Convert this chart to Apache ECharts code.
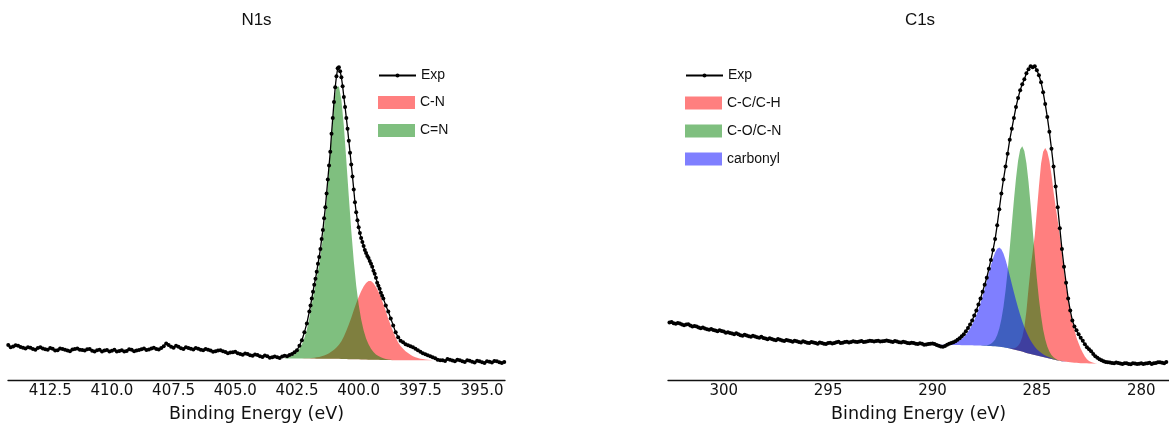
<!DOCTYPE html>
<html>
<head>
<meta charset="utf-8">
<title>XPS N1s / C1s</title>
<script src="https://cdn.jsdelivr.net/npm/echarts@6/dist/echarts.min.js"></script>
<style>
  html, body { margin: 0; padding: 0; background: #fff; }
  #chart { width: 1169px; height: 428px; }
</style>
</head>
<body>
<div id="chart"></div>
<script>
// ---------------- N1s spectrum ----------------
const n1sTitle = 'N1s';
const n1sRange = [394.07, 414.21];
const n1sTicks = [412.5, 410.0, 407.5, 405.0, 402.5, 400.0, 397.5, 395.0];

// measured spectrum: [binding energy (eV), counts]
const n1sExp = [
  [414.2,352],[414.1,330],[414.0,338],[413.9,350],[413.8,345],[413.7,332],[413.6,325],[413.5,318],[413.4,330],[413.3,326],
  [413.2,312],[413.1,305],[413.0,322],[412.9,330],[412.8,318],[412.7,310],[412.6,305],[412.5,322],[412.4,316],[412.3,298],
  [412.2,300],[412.1,318],[412.0,312],[411.9,304],[411.8,296],[411.7,290],[411.6,308],[411.5,312],[411.4,318],[411.3,306],
  [411.2,302],[411.1,296],[411.0,310],[410.9,312],[410.8,294],[410.7,286],[410.6,300],[410.5,306],[410.4,288],[410.3,296],
  [410.2,302],[410.1,288],[410.0,295],[409.9,304],[409.8,286],[409.7,292],[409.6,300],[409.5,288],[409.4,292],[409.3,310],
  [409.2,305],[409.1,290],[409.0,296],[408.9,302],[408.8,310],[408.7,318],[408.6,302],[408.5,308],[408.4,318],[408.3,326],
  [408.2,312],[408.1,308],[408.0,322],[407.9,340],[407.8,368],[407.7,352],[407.6,335],[407.5,326],[407.4,345],[407.3,335],
  [407.2,320],[407.1,312],[407.0,330],[406.9,322],[406.8,314],[406.7,308],[406.6,322],[406.5,316],[406.4,305],[406.3,300],
  [406.2,312],[406.1,306],[406.0,298],[405.9,284],[405.8,290],[405.7,296],[405.6,300],[405.5,290],[405.4,282],[405.3,270],
  [405.2,276],[405.1,280],[405.0,285],[404.9,270],[404.8,262],[404.7,255],[404.6,268],[404.5,262],[404.4,250],[404.3,244],
  [404.2,258],[404.1,252],[404.0,240],[403.9,232],[403.8,246],[403.7,240],[403.6,225],[403.5,230],[403.4,238],[403.3,228],
  [403.2,222],[403.1,236],[403.0,245],
  [402.9,240],[402.8,252],[402.7,262],[402.6,280],[402.5,300],[402.4,345],[402.3,400],[402.2,480],[402.1,570],
  [402.0,690],[401.95,750],[401.9,820],[401.85,890],[401.8,960],[401.75,1020],[401.7,1090],[401.65,1170],[401.6,1240],[401.55,1320],
  [401.5,1420],[401.45,1510],[401.4,1630],[401.35,1740],[401.3,1880],[401.25,2020],[401.2,2160],[401.15,2300],[401.1,2480],[401.05,2640],
  [401.0,2800],[400.95,2950],[400.9,3060],[400.85,3140],[400.8,3150],[400.75,3110],[400.7,3050],[400.65,2960],[400.6,2850],[400.55,2750],
  [400.5,2640],[400.45,2530],[400.4,2410],[400.35,2290],[400.3,2170],[400.25,2050],[400.2,1920],[400.15,1790],[400.1,1690],[400.05,1610],
  [400.0,1540],[399.95,1480],[399.9,1430],[399.85,1390],[399.8,1350],[399.75,1310],[399.7,1280],[399.65,1250],[399.6,1230],[399.55,1200],
  [399.5,1170],[399.45,1140],[399.4,1100],[399.35,1070],[399.3,1030],[399.25,980],[399.2,950],[399.15,920],[399.1,880],[399.05,850],
  [399.0,820],
  [398.9,750],[398.8,690],[398.7,620],[398.6,550],[398.5,480],[398.4,430],[398.3,395],[398.2,380],[398.1,360],[398.0,350],
  [397.9,340],[397.8,330],[397.7,315],[397.6,300],[397.5,285],[397.4,270],[397.3,260],[397.2,250],[397.1,240],
  [397.0,230],[396.9,218],[396.8,205],[396.7,200],[396.6,198],[396.5,192],[396.4,212],[396.3,204],[396.2,196],[396.1,188],
  [396.0,205],[395.9,198],[395.8,190],[395.7,182],[395.6,200],[395.5,194],[395.4,184],[395.3,176],[395.2,195],[395.1,190],
  [395.0,180],[394.9,172],[394.8,190],[394.7,184],[394.6,176],[394.5,192],[394.4,188],[394.3,178],[394.2,172],[394.1,182]
];

// fitted components on a common energy grid
const n1sFitEnergy = [
  403.0, 402.9, 402.8, 402.7, 402.6, 402.5, 402.4, 402.3, 402.2, 402.1,
  402.0, 401.9, 401.8, 401.7, 401.6, 401.5, 401.4, 401.3, 401.2, 401.1,
  401.0, 400.9, 400.8, 400.7, 400.6, 400.5, 400.4, 400.3, 400.2, 400.1,
  400.0, 399.9, 399.8, 399.7, 399.6, 399.5, 399.4, 399.3, 399.2, 399.1,
  399.0, 398.9, 398.8, 398.7, 398.6, 398.5, 398.4, 398.3, 398.2, 398.1,
  398.0, 397.9, 397.8, 397.7, 397.6, 397.5, 397.4, 397.3, 397.2, 397.1,
  397.0
];
const n1sBackground = [
  216, 216, 216, 216, 216, 216, 216, 216, 216, 216,
  216, 216, 216, 215, 215, 215, 215, 215, 214, 214,
  214, 213, 213, 212, 212, 211, 210, 210, 209, 208,
  208, 207, 206, 206, 205, 204, 204, 203, 203, 202,
  202, 201, 201, 201, 200, 200, 200, 200, 199, 199,
  199, 199, 199, 198, 198, 198, 198, 198, 198, 198,
  198
];
const n1sCN = [
  0, 0, 0, 0, 0, 0, 0, 0, 2, 2,
  4, 6, 9, 13, 17, 24, 32, 41, 56, 72,
  91, 115, 143, 179, 227, 286, 350, 417, 493, 564,
  628, 688, 735, 771, 793, 793, 771, 735, 688, 628,
  564, 493, 417, 350, 286, 227, 179, 143, 115, 91,
  72, 56, 41, 32, 24, 17, 13, 9, 6, 4,
  2
];
const n1sCeqN = [
  3, 8, 17, 28, 47, 72, 99, 144, 207, 293,
  410, 545, 680, 815, 955, 1120, 1325, 1601, 1904, 2236,
  2567, 2741, 2743, 2608, 2346, 2001, 1642, 1297, 994, 745,
  552, 406, 295, 213, 155, 110, 77, 55, 39, 28,
  17, 11, 6, 3, 0, 0, 0, 0, 0, 0,
  0, 0, 0, 0, 0, 0, 0, 0, 0, 0,
  0
];

// ---------------- C1s spectrum ----------------
const c1sTitle = 'C1s';
const c1sRange = [278.67, 302.67];
const c1sTicks = [300, 295, 290, 285, 280];

const c1sExp = [
  [302.6,580],[302.5,585],[302.4,572],[302.3,566],[302.2,574],[302.1,568],[302.0,560],[301.9,552],[301.8,558],[301.7,562],
  [301.6,548],[301.5,540],[301.4,545],[301.3,538],[301.2,530],[301.1,522],[301.0,528],[300.9,520],[300.8,512],[300.7,506],
  [300.6,514],[300.5,504],[300.4,498],[300.3,492],[300.2,500],[300.1,494],[300.0,488],[299.9,476],[299.8,482],[299.7,474],
  [299.6,468],[299.5,462],[299.4,470],[299.3,460],[299.2,452],[299.1,446],[299.0,455],[298.9,448],[298.8,440],[298.7,436],
  [298.6,446],[298.5,438],[298.4,430],[298.3,426],[298.2,435],[298.1,424],[298.0,418],[297.9,410],[297.8,420],[297.7,414],
  [297.6,405],[297.5,400],[297.4,412],[297.3,406],[297.2,398],[297.1,394],[297.0,404],[296.9,398],[296.8,392],[296.7,386],
  [296.6,396],[296.5,390],[296.4,384],[296.3,378],[296.2,390],[296.1,384],[296.0,376],[295.9,372],[295.8,384],[295.7,378],
  [295.6,372],[295.5,366],[295.4,378],[295.3,372],[295.2,366],[295.1,362],[295.0,372],[294.9,376],[294.8,368],[294.7,372],
  [294.6,380],[294.5,386],[294.4,372],[294.3,376],[294.2,384],[294.1,386],[294.0,378],[293.9,382],[293.8,390],[293.7,386],
  [293.6,382],[293.5,388],[293.4,392],[293.3,384],[293.2,386],[293.1,390],[293.0,395],[292.9,392],[292.8,388],[292.7,392],
  [292.6,396],[292.5,388],[292.4,390],[292.3,394],[292.2,398],[292.1,392],[292.0,388],[291.9,384],[291.8,392],[291.7,388],
  [291.6,380],[291.5,378],[291.4,386],[291.3,380],[291.2,372],[291.1,370],[291.0,376],[290.9,372],[290.8,366],[290.7,362],
  [290.6,370],[290.5,364],[290.4,356],[290.3,358],[290.2,362],[290.1,366],
  [290.0,368],[289.9,362],[289.8,352],[289.7,345],[289.6,338],[289.5,334],[289.4,342],[289.3,355],[289.2,366],[289.1,372],
  [289.0,380],[288.9,390],[288.8,405],[288.7,420],[288.6,440],[288.5,460],[288.4,490],[288.3,525],[288.2,560],[288.1,600],
  [288.0,650],[287.9,700],[287.8,760],[287.7,820],[287.6,890],[287.5,960],[287.4,1030],[287.3,1120],[287.2,1210],[287.1,1310],
  [287.0,1420],[286.9,1560],[286.8,1720],[286.7,1880],[286.6,2020],[286.5,2150],[286.4,2280],[286.3,2420],[286.2,2530],[286.1,2640],
  [286.0,2750],[285.9,2840],[285.8,2920],[285.7,2980],[285.6,3030],[285.5,3090],[285.4,3130],[285.3,3160],[285.2,3150],[285.1,3160],
  [285.0,3120],[284.9,3070],[284.8,3000],[284.7,2900],[284.6,2780],[284.5,2650],[284.4,2500],[284.3,2330],[284.2,2150],[284.1,1950],
  [284.0,1740],[283.9,1530],[283.8,1320],[283.7,1140],[283.6,980],[283.5,820],[283.4,700],[283.3,600],[283.2,540],[283.1,500],
  [283.0,460],[282.9,425],[282.8,395],[282.7,360],[282.6,330],[282.5,310],[282.4,290],[282.3,262],[282.2,240],[282.1,224],
  [282.0,210],[281.9,200],[281.8,190],[281.7,182],[281.6,180],[281.5,176],[281.4,172],[281.3,168],[281.2,176],[281.1,172],
  [281.0,166],[280.9,162],[280.8,170],[280.7,168],[280.6,162],[280.5,158],[280.4,168],[280.3,166],[280.2,160],[280.1,164],
  [280.0,170],[279.9,160],[279.8,165],[279.7,170],[279.6,175],[279.5,162],[279.4,168],[279.3,172],[279.2,180],[279.1,178],
  [279.0,174],[278.9,170],[278.8,182]
];

const c1sFitEnergy = [
  290.0, 289.9, 289.8, 289.7, 289.6, 289.5, 289.4, 289.3, 289.2, 289.1,
  289.0, 288.9, 288.8, 288.7, 288.6, 288.5, 288.4, 288.3, 288.2, 288.1,
  288.0, 287.9, 287.8, 287.7, 287.6, 287.5, 287.4, 287.3, 287.2, 287.1,
  287.0, 286.9, 286.8, 286.7, 286.6, 286.5, 286.4, 286.3, 286.2, 286.1,
  286.0, 285.9, 285.8, 285.7, 285.6, 285.5, 285.4, 285.3, 285.2, 285.1,
  285.0, 284.9, 284.8, 284.7, 284.6, 284.5, 284.4, 284.3, 284.2, 284.1,
  284.0, 283.9, 283.8, 283.7, 283.6, 283.5, 283.4, 283.3, 283.2, 283.1,
  283.0, 282.9, 282.8, 282.7, 282.6, 282.5, 282.4, 282.3, 282.2, 282.1,
  282.0
];
const c1sBackground = [
  356, 356, 355, 355, 355, 354, 354, 354, 353, 353,
  353, 352, 352, 352, 351, 351, 350, 350, 349, 349,
  348, 348, 347, 347, 346, 345, 344, 343, 342, 341,
  339, 337, 335, 332, 329, 326, 322, 318, 313, 308,
  303, 298, 292, 286, 279, 273, 268, 263, 258, 253,
  247, 242, 237, 231, 226, 221, 216, 211, 206, 201,
  196, 193, 190, 187, 184, 181, 179, 177, 175, 173,
  171, 170, 169, 168, 168, 167, 167, 166, 166, 165,
  165
];
const c1sCC = [
  0, 0, 0, 0, 0, 0, 0, 0, 0, 0,
  0, 0, 0, 0, 0, 0, 0, 0, 0, 0,
  0, 0, 0, 0, 0, 0, 0, 0, 0, 0,
  0, 0, 0, 0, 0, 0, 0, 2, 6, 13,
  25, 46, 84, 148, 253, 422, 654, 865, 1034, 1203,
  1456, 1709, 1941, 2068, 2110, 2078, 1994, 1857, 1688, 1545,
  1405, 1262, 1087, 907, 760, 622, 496, 401, 333, 253,
  200, 148, 106, 68, 42, 25, 15, 8, 4, 2,
  0
];
const c1sCO = [
  0, 0, 0, 0, 0, 0, 0, 0, 0, 0,
  0, 0, 0, 0, 0, 0, 0, 0, 0, 0,
  0, 0, 0, 0, 2, 4, 6, 12, 23, 41,
  70, 116, 184, 279, 410, 575, 776, 1008, 1256, 1503,
  1728, 1911, 2029, 2070, 2029, 1911, 1728, 1503, 1256, 1008,
  776, 575, 410, 279, 184, 116, 70, 41, 23, 12,
  6, 4, 2, 0, 0, 0, 0, 0, 0, 0,
  0, 0, 0, 0, 0, 0, 0, 0, 0, 0,
  0
];
const c1sCarbonyl = [
  0, 0, 1, 2, 3, 4, 6, 9, 12, 16,
  21, 28, 37, 49, 64, 83, 107, 135, 170, 210,
  255, 305, 365, 430, 500, 575, 655, 735, 815, 885,
  945, 985, 1000, 985, 945, 885, 815, 735, 655, 575,
  500, 430, 365, 305, 255, 210, 170, 135, 107, 83,
  64, 49, 37, 28, 21, 16, 12, 9, 6, 4,
  3, 2, 1, 1, 0, 0, 0, 0, 0, 0,
  0, 0, 0, 0, 0, 0, 0, 0, 0, 0,
  0
];

const axisName = 'Binding Energy (eV)';

// ---------------- styling ----------------
const TICK_FONT = 'DejaVu Sans';
const TEXT_FONT = 'Liberation Sans';
const INK = '#111';
const RED = 'rgba(255,0,0,0.5)';
const GREEN = 'rgba(0,128,0,0.5)';
const BLUE = 'rgba(0,0,255,0.5)';

function energyAxis(gridIndex, range, ticks, digits) {
  return {
    type: 'value', gridIndex, inverse: true, min: range[0], max: range[1],
    name: axisName, nameLocation: 'middle', nameGap: 25,
    nameTextStyle: { fontFamily: TICK_FONT, fontSize: 17.5, color: INK },
    axisLine: { onZero: false, lineStyle: { color: INK, width: 1.3 } },
    axisTick: { show: false },
    splitLine: { show: false },
    axisLabel: {
      customValues: ticks,
      formatter: v => Number(v).toFixed(digits),
      fontFamily: TICK_FONT, fontSize: 15, color: INK, margin: 4
    }
  };
}

function countsAxis(gridIndex) {
  return { type: 'value', gridIndex, min: 0, max: 3400, show: false, splitLine: { show: false } };
}

// a fitted component: filled region between the background and background + peak
function band(name, idx, energies, base, heights, color) {
  return {
    type: 'custom', name, xAxisIndex: idx, yAxisIndex: idx, silent: true, clip: true,
    itemStyle: { color },
    data: energies.map((e, i) => [e, base[i], heights[i]]),
    encode: { x: 0, y: 1 },
    renderItem(params, api) {
      if (params.dataIndexInside !== 0) return null;
      const n = params.dataInsideLength;
      const upper = [];
      const lower = [];
      for (let i = 0; i < n; i++) {
        const e = api.value(0, i);
        const b = api.value(1, i);
        const h = api.value(2, i);
        upper.push(api.coord([e, b + h]));
        lower.push(api.coord([e, b]));
      }
      return {
        type: 'polygon',
        shape: { points: upper.concat(lower.reverse()) },
        style: { fill: color, stroke: null, lineWidth: 0 }
      };
    }
  };
}

function expSeries(idx, data) {
  return {
    type: 'line', name: 'Exp', xAxisIndex: idx, yAxisIndex: idx, data,
    symbol: 'circle', symbolSize: 4, showAllSymbol: true, silent: true, z: 5,
    lineStyle: { color: '#000', width: 1.3 },
    itemStyle: { color: '#000', borderWidth: 0 }
  };
}

const legendText = { fontFamily: TEXT_FONT, fontSize: 14, color: INK, lineHeight: 13 };
function expLegend(left) {
  return {
    data: ['Exp'], left, top: 68.5, padding: 0, selectedMode: false,
    itemWidth: 37, itemHeight: 5, textStyle: legendText,
    itemStyle: { borderWidth: 0 }
  };
}
function bandLegend(left, top, names) {
  return {
    data: names.map(n => ({ name: n, icon: 'rect' })), left, top, padding: 0, selectedMode: false,
    orient: 'vertical', itemWidth: 37, itemHeight: 13, itemGap: 14, textStyle: legendText,
    itemStyle: { borderWidth: 0 }
  };
}

function titleText(x, text) {
  return {
    type: 'text', x, y: 20, silent: true,
    style: { text, align: 'center', verticalAlign: 'middle', fontFamily: TEXT_FONT, fontSize: 17, fill: INK }
  };
}

const chart = echarts.init(document.getElementById('chart'), null, { renderer: 'canvas' });

chart.setOption({
  animation: false,
  backgroundColor: '#fff',
  grid: [
    { left: 8, top: 42.5, width: 497, height: 340 },
    { left: 668, top: 42.5, width: 504, height: 340 }
  ],
  xAxis: [
    energyAxis(0, n1sRange, n1sTicks, 1),
    energyAxis(1, c1sRange, c1sTicks, 0)
  ],
  yAxis: [countsAxis(0), countsAxis(1)],
  legend: [
    expLegend(378),
    bandLegend(378, 95.5, ['C-N', 'C=N']),
    expLegend(685),
    bandLegend(685, 96, ['C-C/C-H', 'C-O/C-N', 'carbonyl'])
  ],
  graphic: [titleText(256.5, n1sTitle), titleText(920, c1sTitle)],
  series: [
    band('C-N', 0, n1sFitEnergy, n1sBackground, n1sCN, RED),
    band('C=N', 0, n1sFitEnergy, n1sBackground, n1sCeqN, GREEN),
    expSeries(0, n1sExp),
    band('C-C/C-H', 1, c1sFitEnergy, c1sBackground, c1sCC, RED),
    band('C-O/C-N', 1, c1sFitEnergy, c1sBackground, c1sCO, GREEN),
    band('carbonyl', 1, c1sFitEnergy, c1sBackground, c1sCarbonyl, BLUE),
    expSeries(1, c1sExp)
  ]
});
</script>
</body>
</html>
